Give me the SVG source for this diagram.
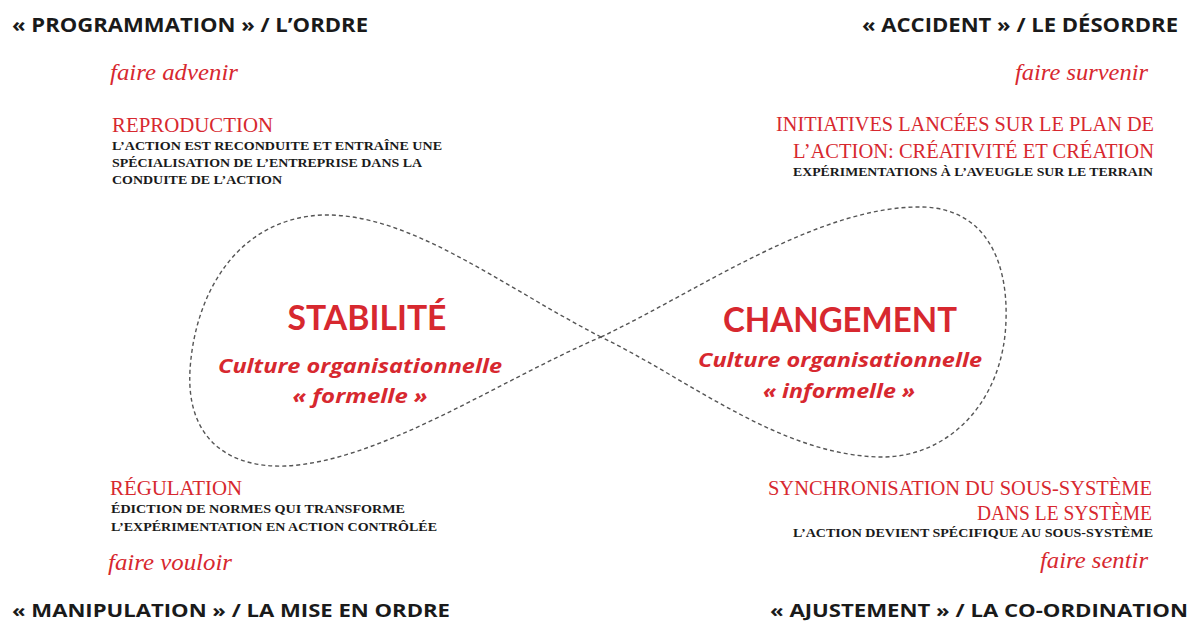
<svg xmlns="http://www.w3.org/2000/svg" width="1192" height="622" viewBox="0 0 1192 622">
<style>
.hdr{font-family:"Open Sans",Lato,sans-serif;font-weight:700;font-size:19px;fill:#1a1a1a}
.hdrb{font-size:18.5px}
.verb{font-family:"Liberation Serif",serif;font-style:italic;font-size:23px;fill:#d7282f}
.ttl{font-family:"Liberation Serif",serif;font-size:20px;fill:#d7282f}
.sub{font-family:"Liberation Serif",serif;font-weight:700;font-size:12.5px;fill:#1a1a1a}
.big{font-family:Lato,"Open Sans",sans-serif;font-weight:700;font-size:34px;fill:#d7282f}
.cult{font-family:"Open Sans",Lato,sans-serif;font-weight:700;font-style:italic;font-size:20px;fill:#d7282f}
.r{text-anchor:end}
.m{text-anchor:middle}
.loop{fill:none;stroke:#555;stroke-width:1.4;stroke-dasharray:4 3}
</style>
<rect width="1192" height="622" fill="#fff"/>
<g id="connectors">
<path class="loop" d="M601,337 C500,285 410,213 323,215 C240,218 195,290 190,370 C186,440 230,468 285,466 C380,462 500,380 601,337"/>
<path class="loop" d="M601,337 C700,290 820,205 923,207 C985,209 1008,260 1006,320 C1004,400 950,458 880,457 C780,455 690,380 601,337"/>
</g>
<g id="node-programmation">
<text class="hdr" x="12" y="32" textLength="356" lengthAdjust="spacingAndGlyphs">« PROGRAMMATION » / L’ORDRE</text>
<text class="verb" x="110" y="80" textLength="128" lengthAdjust="spacingAndGlyphs">faire advenir</text>
<text class="ttl" x="112" y="132" textLength="161" lengthAdjust="spacingAndGlyphs">REPRODUCTION</text>
<text class="sub" x="112" y="150" textLength="330" lengthAdjust="spacingAndGlyphs">L’ACTION EST RECONDUITE ET ENTRAÎNE UNE</text>
<text class="sub" x="112" y="167" textLength="310" lengthAdjust="spacingAndGlyphs">SPÉCIALISATION DE L’ENTREPRISE DANS LA</text>
<text class="sub" x="112" y="184" textLength="170" lengthAdjust="spacingAndGlyphs">CONDUITE DE L’ACTION</text>
</g>
<g id="node-accident">
<text class="hdr r" x="1178" y="32" textLength="316" lengthAdjust="spacingAndGlyphs">« ACCIDENT » / LE DÉSORDRE</text>
<text class="verb r" x="1148" y="80" textLength="133" lengthAdjust="spacingAndGlyphs">faire survenir</text>
<text class="ttl r" x="1154" y="131" textLength="378" lengthAdjust="spacingAndGlyphs">INITIATIVES LANCÉES SUR LE PLAN DE</text>
<text class="ttl r" x="1154" y="158" textLength="361" lengthAdjust="spacingAndGlyphs">L’ACTION: CRÉATIVITÉ ET CRÉATION</text>
<text class="sub r" x="1153" y="176" textLength="360" lengthAdjust="spacingAndGlyphs">EXPÉRIMENTATIONS À L’AVEUGLE SUR LE TERRAIN</text>
</g>
<g id="node-manipulation">
<text class="ttl" x="110" y="495" textLength="132" lengthAdjust="spacingAndGlyphs">RÉGULATION</text>
<text class="sub" x="111" y="513" textLength="294" lengthAdjust="spacingAndGlyphs">ÉDICTION DE NORMES QUI TRANSFORME</text>
<text class="sub" x="111" y="531" textLength="326" lengthAdjust="spacingAndGlyphs">L’EXPÉRIMENTATION EN ACTION CONTRÔLÉE</text>
<text class="verb" x="108" y="570" textLength="124" lengthAdjust="spacingAndGlyphs">faire vouloir</text>
<text class="hdr hdrb" x="12" y="617" textLength="438" lengthAdjust="spacingAndGlyphs">« MANIPULATION » / LA MISE EN ORDRE</text>
</g>
<g id="node-ajustement">
<text class="ttl r" x="1152" y="495" textLength="384" lengthAdjust="spacingAndGlyphs">SYNCHRONISATION DU SOUS-SYSTÈME</text>
<text class="ttl r" x="1152" y="520" textLength="175" lengthAdjust="spacingAndGlyphs">DANS LE SYSTÈME</text>
<text class="sub r" x="1153" y="537" textLength="360" lengthAdjust="spacingAndGlyphs">L’ACTION DEVIENT SPÉCIFIQUE AU SOUS-SYSTÈME</text>
<text class="verb r" x="1148" y="568" textLength="108" lengthAdjust="spacingAndGlyphs">faire sentir</text>
<text class="hdr hdrb r" x="1188" y="617" textLength="418" lengthAdjust="spacingAndGlyphs">« AJUSTEMENT » / LA CO-ORDINATION</text>
</g>
<g id="node-stabilite">
<text class="big m" x="367" y="330" textLength="159" lengthAdjust="spacingAndGlyphs">STABILITÉ</text>
<text class="cult m" x="360" y="373" textLength="284" lengthAdjust="spacingAndGlyphs">Culture organisationnelle</text>
<text class="cult m" x="360" y="403" textLength="135" lengthAdjust="spacingAndGlyphs">« formelle »</text>
</g>
<g id="node-changement">
<text class="big m" x="840" y="332" textLength="234" lengthAdjust="spacingAndGlyphs">CHANGEMENT</text>
<text class="cult m" x="840" y="367" textLength="284" lengthAdjust="spacingAndGlyphs">Culture organisationnelle</text>
<text class="cult m" x="839" y="398" textLength="152" lengthAdjust="spacingAndGlyphs">« informelle »</text>
</g>
</svg>
